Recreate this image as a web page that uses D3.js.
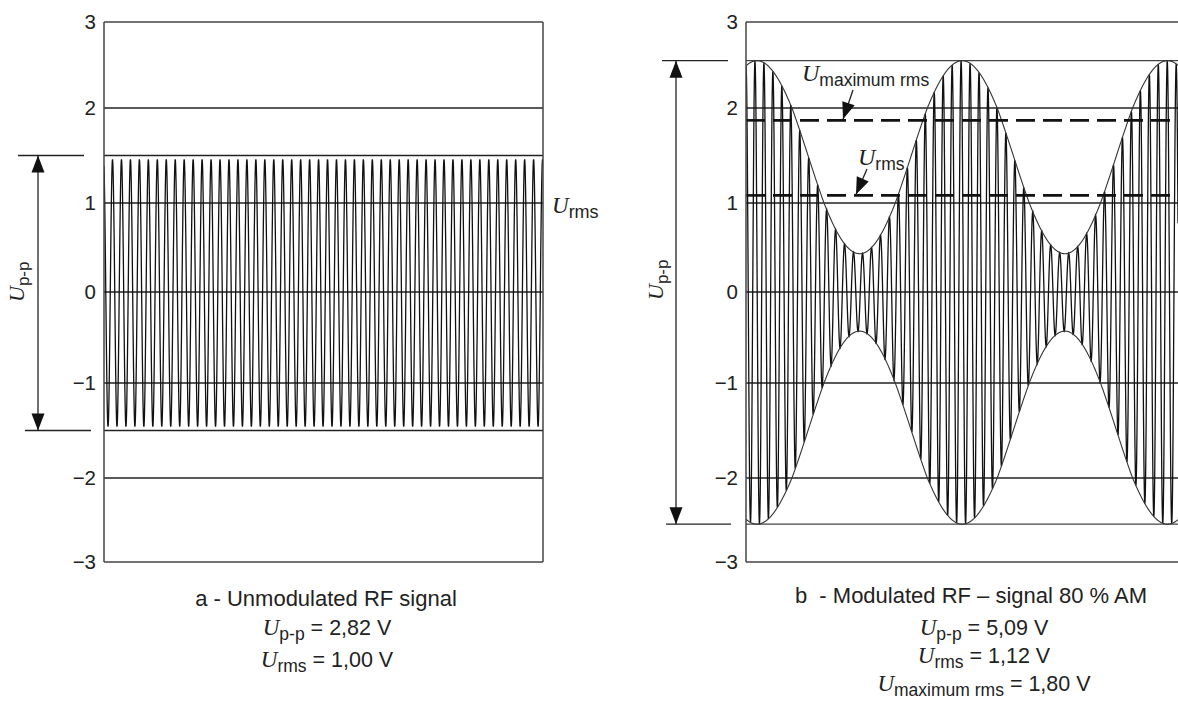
<!DOCTYPE html>
<html>
<head>
<meta charset="utf-8">
<script src="https://cdn.jsdelivr.net/npm/d3@7"></script>
<style>
  body { margin: 0; background: #fff; }
  svg { display: block; }
  .sans { font-family: "Liberation Sans", Arial, sans-serif; fill: #222; }
  .ital { font-family: "Liberation Serif", "Times New Roman", serif; font-style: italic; }
</style>
</head>
<body>
<script>
// voltage axis, same for both panels
var yTicks = [3, 2, 1, 0, -1, -2, -3];
var yTickLabels = ["3", "2", "1", "0", "\u22121", "\u22122", "\u22123"];
var gridLevels = [2, 1, 0, -1, -2];

// panel a : unmodulated carrier
var peakA = 1.5;            // level of the Up-p marks
var carrierAmpA = 1.46;     // carrier amplitude as drawn
var carrierCyclesA = 49;

// panel b : 80 % AM
var peakB = 2.55;
var envelopeB = [1.49, 1.06];        // [mean, swing] of the envelope
var envelopeTimingB = [22.9, 1.23];  // [period, first crest] in carrier cycles
var carrierCyclesB = 48.2;
var rmsLevelsB = [1.87, 1.08];       // Umaximum rms, Urms

var captionTitles = ["a - Unmodulated RF signal", "b\u00a0 - Modulated RF \u2013 signal 80 % AM"];
var captionSubsA = ["p-p", "rms"];
var captionValsA = ["2,82 V", "1,00 V"];
var captionSubsB = ["p-p", "rms", "maximum rms"];
var captionValsB = ["5,09 V", "1,12 V", "1,80 V"];

var W = 1178, H = 705;
var svg = d3.select("body").append("svg").attr("width", W).attr("height", H);

// hand-drawn figure: tick spacing is not perfectly even
var y = d3.scaleLinear().domain(yTicks).range([22, 108, 203, 292, 383, 478, 562]);

var defs = svg.append("defs");
defs.append("clipPath").attr("id", "clipA").append("rect")
    .attr("x", 104).attr("y", 0).attr("width", 439).attr("height", H);
defs.append("clipPath").attr("id", "clipB").append("rect")
    .attr("x", 746).attr("y", 0).attr("width", W - 746).attr("height", H);

function hline(g, v, x0, x1, opts) {
    opts = opts || {};
    g.append("line")
        .attr("x1", x0).attr("x2", x1)
        .attr("y1", y(v)).attr("y2", y(v))
        .attr("stroke", opts.color || "#222")
        .attr("stroke-width", opts.width || 1.3)
        .attr("stroke-dasharray", opts.dash || null);
}

function arrowHead(g, tipX, tipY, fromX, fromY, len, half) {
    var a = Math.atan2(tipY - fromY, tipX - fromX);
    var bx = tipX - len * Math.cos(a), by = tipY - len * Math.sin(a);
    var px = -Math.sin(a) * half, py = Math.cos(a) * half;
    g.append("path")
        .attr("d", "M" + tipX + "," + tipY + "L" + (bx + px) + "," + (by + py) + "L" + (bx - px) + "," + (by - py) + "Z")
        .attr("fill", "#111");
}

function arrow(g, x0, y0, x1, y1, both) {
    g.append("line").attr("x1", x0).attr("y1", y0).attr("x2", x1).attr("y2", y1)
        .attr("stroke", "#222").attr("stroke-width", 1.3);
    arrowHead(g, x1, y1, x0, y0, 17, 6.5);
    if (both) arrowHead(g, x0, y0, x1, y1, 17, 6.5);
}

function yAxisLabels(g, xRight) {
    g.selectAll("text.tick").data(yTicks).enter().append("text")
        .attr("class", "tick sans")
        .attr("x", xRight)
        .attr("y", function(d) { return y(d); })
        .attr("text-anchor", "end")
        .attr("dy", "0.35em")
        .attr("font-size", 20.5)
        .text(function(d, i) { return yTickLabels[i]; });
}

// U with subscript, horizontal or rotated
function uLabel(g, x, yb, sub, uSize, subSize, rotate, anchor) {
    var t = g.append("text").attr("class", "sans")
        .attr("text-anchor", anchor || "start");
    if (rotate) t.attr("transform", "translate(" + x + "," + yb + ") rotate(-90)");
    else t.attr("x", x).attr("y", yb);
    t.append("tspan").attr("class", "ital").attr("font-size", uSize).text("U");
    t.append("tspan").attr("font-size", subSize).attr("dy", 5).text(sub);
    return t;
}

function upLabel(g, xBase, yStart) {
    uLabel(g, xBase, yStart, "p-p", 22, 17, true);
}

// ---------- panel a ----------
var gA = svg.append("g");
var xA = d3.scaleLinear().domain([0, carrierCyclesA]).range([104, 543]);

gridLevels.forEach(function(v) { hline(gA, v, 104, 543); });
hline(gA, 3, 104, 543, {color: "#444"});
hline(gA, -3, 104, 543, {color: "#444"});
hline(gA, peakA, 104, 543);
hline(gA, -peakA, 104, 543);
hline(gA, peakA, 18, 84);
hline(gA, -peakA, 25, 91);

var tA = d3.range(0, carrierCyclesA + 0.001, 1 / 40);
gA.append("path")
    .datum(tA)
    .attr("clip-path", "url(#clipA)")
    .attr("fill", "none")
    .attr("stroke", "#111")
    .attr("stroke-width", 1.3)
    .attr("d", d3.line()
        .x(function(t) { return xA(t); })
        .y(function(t) { return y(carrierAmpA * Math.sin(2 * Math.PI * (t + 0.3))); }));

[104, 543].forEach(function(x) {
    gA.append("line").attr("x1", x).attr("x2", x).attr("y1", y(3)).attr("y2", y(-3))
        .attr("stroke", "#444").attr("stroke-width", 1.5);
});

yAxisLabels(gA, 96);
arrow(gA, 38, y(-peakA), 38, y(peakA), true);
upLabel(gA, 24, 302);
uLabel(gA, 552, 213, "rms", 23, 18);

// ---------- panel b ----------
var gB = svg.append("g");
var xB = d3.scaleLinear().domain([0, carrierCyclesB]).range([746, W]);

gridLevels.forEach(function(v) { hline(gB, v, 746, W); });
hline(gB, 3, 746, W, {color: "#444"});
hline(gB, -3, 746, W, {color: "#444"});
hline(gB, peakB, 746, W, {color: "#444"});
hline(gB, -peakB, 746, W, {color: "#444"});
hline(gB, peakB, 662, 728);
hline(gB, -peakB, 666, 731);

function env(t) {
    return envelopeB[0] + envelopeB[1] * Math.cos(2 * Math.PI * (t - envelopeTimingB[1]) / envelopeTimingB[0]);
}

var tB = d3.range(0, carrierCyclesB + 0.001, 1 / 40);
var clipB = gB.append("g").attr("clip-path", "url(#clipB)");
clipB.append("path")
    .datum(tB)
    .attr("fill", "none")
    .attr("stroke", "#111")
    .attr("stroke-width", 1.3)
    .attr("d", d3.line()
        .x(function(t) { return xB(t); })
        .y(function(t) { return y(env(t) * Math.sin(2 * Math.PI * (t + 0.25))); }));

[1, -1].forEach(function(s) {
    clipB.append("path")
        .datum(tB)
        .attr("fill", "none")
        .attr("stroke", "#333")
        .attr("stroke-width", 1.1)
        .attr("d", d3.line()
            .x(function(t) { return xB(t); })
            .y(function(t) { return y(s * env(t)); }));
});

rmsLevelsB.forEach(function(v) {
    hline(gB, v, 746, W, {color: "#111", width: 2.6, dash: "19,8"});
});

gB.append("line").attr("x1", 746).attr("x2", 746).attr("y1", y(3)).attr("y2", y(-3))
    .attr("stroke", "#444").attr("stroke-width", 1.5);

yAxisLabels(gB, 738);
arrow(gB, 676, y(-peakB), 676, y(peakB), true);
upLabel(gB, 663, 300);

uLabel(gB, 802, 81, "maximum rms", 24, 17.5);
uLabel(gB, 858, 165, "rms", 24, 17.5);
arrow(gB, 853, 90, 843, y(rmsLevelsB[0]) - 1);
arrow(gB, 867, 169, 856, y(rmsLevelsB[1]) - 1);

// ---------- captions ----------
function caption(cx, titleY, title, titleCx, subs, vals, firstY, step) {
    svg.append("text").attr("class", "sans")
        .attr("x", titleCx).attr("y", titleY)
        .attr("text-anchor", "middle")
        .attr("font-size", 22)
        .text(title);
    subs.forEach(function(s, i) {
        var t = uLabel(svg, cx, firstY + i * step, s, 23, 17.5, false, "middle");
        t.append("tspan").attr("font-size", 21.5).attr("dy", -5).text(" = " + vals[i]);
    });
}
caption(327, 606, captionTitles[0], 326, captionSubsA, captionValsA, 635, 32);
caption(984, 603, captionTitles[1], 971, captionSubsB, captionValsB, 635, 28);
</script>
</body>
</html>
